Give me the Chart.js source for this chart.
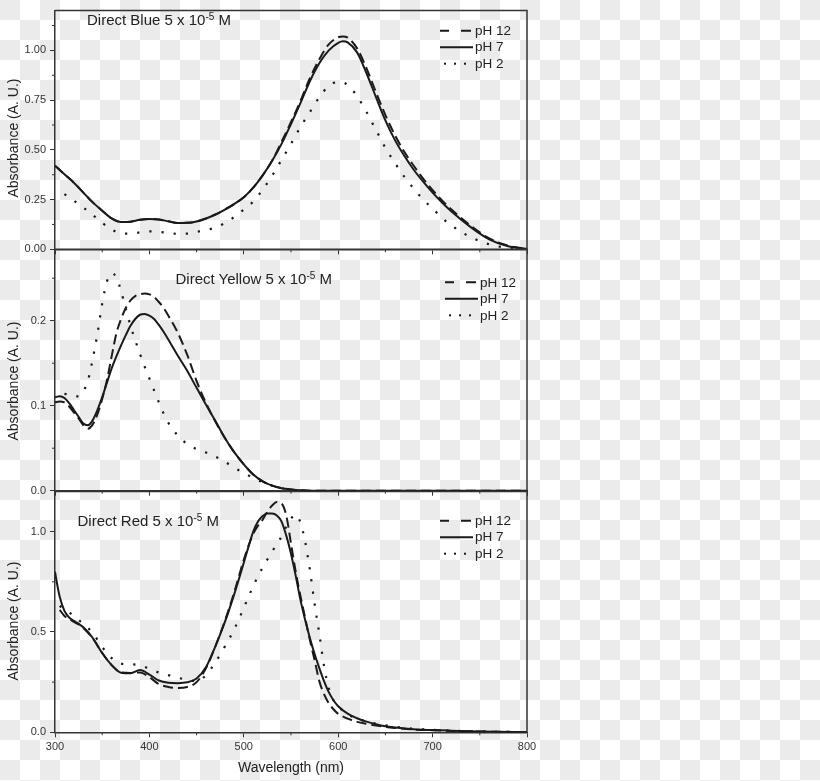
<!DOCTYPE html>
<html>
<head>
<meta charset="utf-8">
<script src="https://cdn.jsdelivr.net/npm/chart.js@4.4.1/dist/chart.umd.min.js"></script>
<style>
  body { margin: 0; }
  #wrap {
    position: relative; width: 820px; height: 781px; overflow: hidden;
    background: repeating-conic-gradient(#ebebeb 0 25%, #ffffff 0 50%) 20px 0 / 40px 40px;
  }
  canvas { position: absolute; left: 0; top: 0; }
  .txt { position: absolute; font-family: "Liberation Sans", Arial, sans-serif; color: #222; white-space: nowrap; }
  .ttl { font-size: 15px; line-height: 17px; }
  .ttl sup { font-size: 10px; vertical-align: 5px; line-height: 0; }
  .ylab { font-size: 14px; transform: translate(-50%, -50%) rotate(-90deg); }
</style>
</head>
<body>
<div id="wrap">
  <canvas id="c1" width="820" height="781"></canvas>
  <canvas id="c2" width="820" height="781"></canvas>
  <canvas id="c3" width="820" height="781"></canvas>
  <div class="txt ttl" style="left:87px;top:10.8px">Direct Blue 5 x 10<sup>-5</sup> M</div>
  <div class="txt ttl" style="left:175.5px;top:269.8px">Direct Yellow 5 x 10<sup>-5</sup> M</div>
  <div class="txt ttl" style="left:77.5px;top:512.2px">Direct Red 5 x 10<sup>-5</sup> M</div>
  <div class="txt ylab" style="left:13px;top:137.5px">Absorbance (A. U.)</div>
  <div class="txt ylab" style="left:13px;top:381px">Absorbance (A. U.)</div>
  <div class="txt ylab" style="left:13px;top:621px">Absorbance (A. U.)</div>
</div>
<script>
// wavelengths (nm) and absorbance
var seriesNames = ['pH 12', 'pH 7', 'pH 2']
var xTicks = [300, 400, 500, 600, 700, 800]
var xMinor = [350, 450, 550, 650, 750]

var blueWl = [300,310,320,330,340,350,360,370,380,390,400,410,420,430,440,450,460,470,480,490,500,510,520,530,540,550,560,570,580,590,600,605,610,620,630,640,650,660,670,680,690,700,710,720,740,760,780,800]
var blue12 = [.42,.377,.335,.285,.236,.194,.155,.137,.139,.148,.152,.150,.141,.132,.133,.140,.155,.175,.200,.228,.262,.31,.372,.445,.54,.64,.745,.86,.955,1.03,1.066,1.07,1.064,1.01,.91,.79,.675,.575,.49,.42,.355,.297,.246,.2,.12,.055,.018,.002]
var blue7 = [.42,.377,.335,.285,.236,.194,.155,.137,.139,.148,.152,.150,.141,.132,.133,.140,.155,.175,.200,.228,.262,.31,.372,.445,.53,.63,.735,.845,.935,1.0,1.038,1.046,1.04,.99,.885,.765,.648,.55,.47,.40,.34,.285,.235,.19,.113,.05,.015,.002]
var blue2 = [null,.277,.245,.21,.173,.133,.1,.08,.079,.085,.09,.088,.082,.078,.079,.088,.096,.11,.132,.163,.2,.24,.3,.37,.45,.53,.615,.69,.765,.82,.842,.84,.825,.77,.69,.6,.51,.435,.365,.305,.25,.205,.158,.12,.062,.025,.007,0]
var blueTicks = [0, 0.25, 0.5, 0.75, 1.0]
var blueMinor = [0.125, 0.375, 0.625, 0.875, 1.125]

var yellowWl = [300,305,310,315,320,325,330,335,340,345,350,355,360,365,370,375,380,385,390,395,400,405,410,415,420,430,440,450,460,470,480,490,500,510,520,530,540,550,560,570,580,600,650,700,750,800]
var yellow12 = [.104,.105,.104,.099,.092,.085,.077,.073,.078,.09,.108,.13,.158,.185,.202,.215,.224,.229,.231,.232,.231,.228,.222,.215,.206,.186,.16,.129,.103,.081,.062,.045,.031,.019,.011,.006,.003,.0015,.0005,0,0,0,0,0,0,0]
var yellow7 = [.110,.111,.109,.103,.095,.087,.079,.077,.083,.095,.110,.127,.144,.158,.171,.183,.194,.202,.207,.208,.206,.202,.195,.187,.178,.159,.141,.121,.101,.082,.062,.045,.031,.019,.011,.006,.003,.0015,.0005,0,0,0,0,0,0,0]
var yellow2 = [null,null,.114,.113,.111,.111,.117,.13,.155,.185,.22,.246,.256,.251,.235,.214,.194,.177,.161,.146,.132,.118,.104,.091,.080,.065,.055,.049,.045,.040,.034,.027,.021,.015,.010,.006,.003,.001,0,null,null,null,null,null,null,null]
var yellowTicks = [0, 0.1, 0.2]
var yellowMinor = [0.05, 0.15, 0.25]

var redWl = [300,302,305,310,315,320,325,330,340,350,360,370,380,390,400,410,420,430,440,450,460,470,480,490,500,505,510,515,520,525,530,535,540,545,550,555,560,565,570,575,580,585,590,595,600,610,620,630,640,650,660,680,700,720,750,800]
var red12 = [null,null,.61,.58,.565,.55,.538,.52,.468,.395,.335,.298,.296,.298,.275,.24,.226,.221,.226,.25,.32,.43,.555,.70,.86,.93,.99,1.03,1.06,1.1,1.13,1.148,1.14,1.08,.94,.80,.68,.57,.46,.36,.255,.19,.145,.115,.092,.068,.052,.042,.034,.027,.022,.014,.01,.007,.004,.001]
var red7 = [.80,.745,.675,.605,.572,.555,.54,.523,.47,.395,.335,.297,.294,.31,.288,.258,.247,.245,.249,.268,.325,.43,.55,.69,.845,.925,1.0,1.05,1.078,1.09,1.09,1.08,1.05,.98,.89,.78,.66,.56,.47,.39,.32,.255,.2,.16,.13,.093,.07,.053,.04,.03,.024,.015,.011,.008,.004,.001]
var red2 = [null,null,.63,.61,.597,.58,.56,.54,.495,.425,.37,.342,.339,.334,.317,.298,.285,.272,.262,.255,.285,.35,.428,.515,.62,.675,.73,.777,.822,.862,.9,.94,.975,1.025,1.065,1.085,1.045,.95,.81,.64,.49,.33,.22,.16,.13,.09,.068,.054,.043,.035,.028,.018,.012,.008,.004,.001]
var redTicks = [0, 0.5, 1.0]
var redMinor = [0.25, 0.75]

var ink = '#1a1a1a'
var axisInk = '#333'
var fontFam = '"Liberation Sans", Arial, sans-serif'

var frameAndExtras = {
  id: 'frameAndExtras',
  afterDraw: function(chart, args, o) {
    var ctx = chart.ctx, a = chart.chartArea
    var x = chart.scales.x, y = chart.scales.y
    ctx.save()
    ctx.strokeStyle = axisInk
    ctx.lineWidth = 1.5
    ctx.beginPath()
    ctx.moveTo(a.left, a.top)
    ctx.lineTo(a.right, a.top)
    ctx.lineTo(a.right, a.bottom)
    ctx.stroke()

    ctx.lineWidth = 1
    ctx.beginPath()
    xMinor.forEach(function(v) {
      var px = x.getPixelForValue(v)
      ctx.moveTo(px, a.bottom); ctx.lineTo(px, a.bottom + 3)
    })
    o.yMinor.forEach(function(v) {
      var py = y.getPixelForValue(v)
      ctx.moveTo(a.left, py); ctx.lineTo(a.left - 3, py)
    })
    ctx.stroke()

    // legend
    var lx = o.lx, ly = o.ly, gap = 16.5
    ctx.strokeStyle = ink
    ctx.fillStyle = ink
    ctx.lineWidth = 2
    ctx.beginPath()
    ctx.moveTo(lx, ly); ctx.lineTo(lx + 9, ly)
    ctx.moveTo(lx + 21, ly); ctx.lineTo(lx + 31, ly)
    ctx.moveTo(lx, ly + gap); ctx.lineTo(lx + 33, ly + gap)
    ctx.stroke()
    ;[5, 15, 25].forEach(function(d) {
      ctx.fillRect(lx + d - 1, ly + 2 * gap - 1, 2, 2)
    })
    ctx.font = '13.5px ' + fontFam
    ctx.fillStyle = '#222'
    ctx.textBaseline = 'middle'
    seriesNames.forEach(function(n, i) {
      ctx.fillText(n, lx + 35, ly + i * gap + 0.5)
    })
    ctx.restore()
  }
}

function toPoints(wl, vals) {
  return wl.map(function(w, i) { return {x: w, y: vals[i]} })
}

function panel(id, wl, s12, s7, s2, p) {
  var xh = p.last ? 781 - p.bottom : 6
  new Chart(document.getElementById(id), {
    type: 'line',
    data: {
      datasets: [
        {label: seriesNames[0], data: toPoints(wl, s12), borderColor: ink, borderWidth: 2, borderDash: [10, 5]},
        {label: seriesNames[1], data: toPoints(wl, s7), borderColor: ink, borderWidth: 2},
        {label: seriesNames[2], data: toPoints(wl, s2), borderColor: ink, borderWidth: 2.2, borderDash: [2.2, 10]}
      ]
    },
    options: {
      responsive: false,
      animation: false,
      cubicInterpolationMode: 'monotone',
      elements: {point: {radius: 0}, line: {cubicInterpolationMode: 'monotone', fill: false}},
      layout: {padding: {left: 0, right: 820 - 527, top: p.top, bottom: 781 - p.bottom - xh}},
      plugins: {
        legend: {display: false},
        tooltip: {enabled: false},
        frameAndExtras: {yMinor: p.yMinor, lx: p.lx, ly: p.ly}
      },
      scales: {
        x: {
          type: 'linear', min: 300, max: 800,
          afterBuildTicks: function(s) { s.ticks = xTicks.map(function(v) { return {value: v} }) },
          afterFit: function(s) { s.height = xh },
          border: {color: axisInk, width: 1.5},
          grid: {drawOnChartArea: false, tickLength: 5, color: axisInk, tickWidth: 1},
          ticks: {display: p.last, padding: 3, color: '#333', font: {family: fontFam, size: 11}},
          title: {display: p.last, text: 'Wavelength (nm)', color: '#222', font: {family: fontFam, size: 14}, padding: {top: 0, bottom: 4.6}}
        },
        y: {
          min: 0, max: p.yMax,
          afterBuildTicks: function(s) { s.ticks = p.yTicks.map(function(v) { return {value: v} }) },
          afterFit: function(s) { s.width = 55 },
          border: {color: axisInk, width: 1.5},
          grid: {drawOnChartArea: false, tickLength: 5, color: axisInk, tickWidth: 1},
          ticks: {
            padding: 4, color: '#333', font: {family: fontFam, size: 11},
            callback: function(v) { return Number(v).toFixed(p.dec) }
          }
        }
      }
    },
    plugins: [frameAndExtras]
  })
}

panel('c1', blueWl, blue12, blue7, blue2,
  {top: 7.5, bottom: 249.3, yMax: 1.2, yTicks: blueTicks, yMinor: blueMinor, dec: 2, lx: 440, ly: 30.7, last: false})
panel('c2', yellowWl, yellow12, yellow7, yellow2,
  {top: 249.3, bottom: 490.7, yMax: 0.284, yTicks: yellowTicks, yMinor: yellowMinor, dec: 1, lx: 445, ly: 282.3, last: false})
panel('c3', redWl, red12, red7, red2,
  {top: 491.5, bottom: 732.3, yMax: 1.2, yTicks: redTicks, yMinor: redMinor, dec: 1, lx: 440, ly: 520.7, last: true})
</script>
</body>
</html>
